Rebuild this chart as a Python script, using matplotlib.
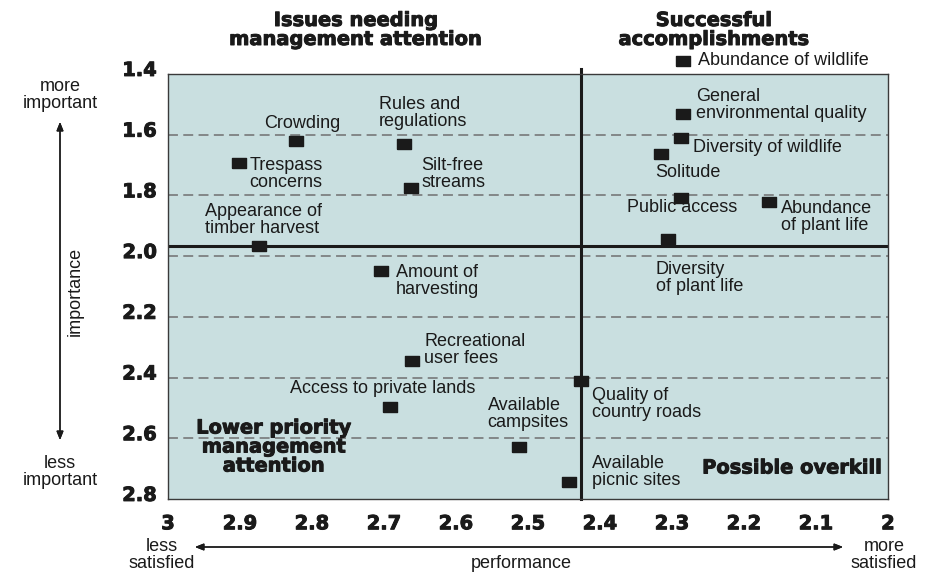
import matplotlib.pyplot as plt
import matplotlib.transforms as mtrans
import matplotlib.patheffects as pe

# importance / performance ratings for each resource attribute
items = [
    "Abundance of wildlife", "General\nenvironmental quality", "Diversity of wildlife",
    "Solitude", "Public access", "Abundance\nof plant life", "Diversity\nof plant life",
    "Crowding", "Rules and\nregulations", "Trespass\nconcerns", "Silt-free\nstreams",
    "Appearance of\ntimber harvest", "Amount of\nharvesting", "Recreational\nuser fees",
    "Access to private lands", "Available\ncampsites", "Quality of\ncountry roads",
    "Available\npicnic sites",
]
performance = [2.285, 2.285, 2.288, 2.315, 2.288, 2.165, 2.306,
               2.822, 2.672, 2.901, 2.663, 2.874, 2.704, 2.661,
               2.691, 2.513, 2.426, 2.443]
importance = [1.357, 1.532, 1.611, 1.663, 1.808, 1.822, 1.943,
              1.622, 1.632, 1.693, 1.775, 1.967, 2.049, 2.345,
              2.498, 2.630, 2.410, 2.745]

# grand means splitting the quadrants
mean_perf = 2.426
mean_imp = 1.965

x_ticks = [3, 2.9, 2.8, 2.7, 2.6, 2.5, 2.4, 2.3, 2.2, 2.1, 2]
x_ticklabels = ["3", "2.9", "2.8", "2.7", "2.6", "2.5", "2.4", "2.3", "2.2", "2.1", "2"]
y_ticks = [1.4, 1.6, 1.8, 2.0, 2.2, 2.4, 2.6, 2.8]
y_ticklabels = ["1.4", "1.6", "1.8", "2.0", "2.2", "2.4", "2.6", "2.8"]

# label offsets from each marker (pixels: left edge of text, vertical centre)
label_offsets = [(15, 0), (13, 9), (12, -9), (-6, -19), (-54, -10), (12, -15), (-12, -39),
                 (-32, 18), (-25, 31), (10, -11), (11, 14), (-54, 26), (15, -10), (12, 11),
                 (-100, 19), (-31, 33), (11, -23), (23, 10)]

INK = "#1a1a1a"
W, H = 943, 573
fig = plt.figure(figsize=(W / 100, H / 100), dpi=100)
ax = fig.add_axes([168 / W, 1 - 499 / H, 720 / W, 425 / H])
ax.set_facecolor("#c9dfe0")
ax.set_xlim(3, 2)
ax.set_ylim(2.8, 1.4)

for s in ax.spines.values():
    s.set_linewidth(1.0)
    s.set_color("#3a3a3a")

# extra-heavy look for the bold captions
thick = [pe.withStroke(linewidth=0.7, foreground=INK)]
heavy = dict(family="DejaVu Sans", fontweight="bold", color=INK, path_effects=thick)
plain = dict(family="Liberation Sans", color=INK)

ax.set_xticks(x_ticks)
ax.set_xticklabels(x_ticklabels, fontsize=14, **heavy)
ax.set_yticks(y_ticks)
ax.set_yticklabels(y_ticklabels, fontsize=14, **heavy)
ax.tick_params(axis="x", length=0, pad=11)
ax.tick_params(axis="y", length=0, pad=8)
shift = mtrans.ScaledTranslation(0, 4 / 72, fig.dpi_scale_trans)
for lbl in ax.get_yticklabels():
    lbl.set_transform(lbl.get_transform() + shift)

# dashed reference lines
for y in y_ticks[1:-1]:
    ax.axhline(y, color="#707070", lw=1.1, dashes=(6.5, 3.5), zorder=1)

# quadrant dividers
ax.axhline(mean_imp, color=INK, lw=2.2, zorder=2)
ax.axvline(mean_perf, ymin=0, ymax=1.012, color=INK, lw=2.2, zorder=2, clip_on=False)

rect = [(-1, -0.72), (1, -0.72), (1, 0.72), (-1, 0.72), (-1, -0.72)]
ax.plot(performance, importance, ls="none", marker=rect, ms=9.4,
        color=INK, zorder=3, clip_on=False)

for name, x, y, (dx, dy) in zip(items, performance, importance, label_offsets):
    ax.annotate(name, (x, y), xytext=(dx, dy), textcoords="offset pixels",
                ha="left", va="center", fontsize=13, linespacing=1.0,
                annotation_clip=False, **plain)

# quadrant captions
fig.text(356 / W, 1 - 30 / H, "Issues needing\nmanagement attention", ha="center",
         va="center", fontsize=14, linespacing=1.0, **heavy)
fig.text(714 / W, 1 - 30 / H, "Successful\naccomplishments", ha="center",
         va="center", fontsize=14, linespacing=1.0, **heavy)
fig.text(274 / W, 1 - 447 / H, "Lower priority\nmanagement\nattention", ha="center",
         va="center", fontsize=14, linespacing=1.0, **heavy)
fig.text(882 / W, 1 - 468 / H, "Possible overkill", ha="right",
         va="center", fontsize=14, **heavy)

# axis descriptions with arrows
fig.text(60 / W, 1 - 95 / H, "more\nimportant", ha="center", va="center",
         fontsize=13, linespacing=1.0, **plain)
fig.text(60 / W, 1 - 472 / H, "less\nimportant", ha="center", va="center",
         fontsize=13, linespacing=1.0, **plain)
fig.text(75 / W, 1 - 291 / H, "importance", ha="center", va="center", rotation=90,
         fontsize=13, **plain)
fig.text(162 / W, 1 - 555 / H, "less\nsatisfied", ha="center", va="center",
         fontsize=13, linespacing=1.0, **plain)
fig.text(884 / W, 1 - 555 / H, "more\nsatisfied", ha="center", va="center",
         fontsize=13, linespacing=1.0, **plain)
fig.text(521 / W, 1 - 563 / H, "performance", ha="center", va="center",
         fontsize=13, **plain)

arrow = dict(arrowstyle="<|-|>,head_length=0.5,head_width=0.2", color=INK,
             lw=1.0, shrinkA=0, shrinkB=0)
fig.add_artist(plt.annotate("", xy=(60 / W, 1 - 122 / H), xytext=(60 / W, 1 - 440 / H),
                            xycoords=fig.transFigure, arrowprops=arrow))
fig.add_artist(plt.annotate("", xy=(195 / W, 1 - 547 / H), xytext=(843 / W, 1 - 547 / H),
                            xycoords=fig.transFigure, arrowprops=arrow))

fig.savefig("out.png", dpi=100)
